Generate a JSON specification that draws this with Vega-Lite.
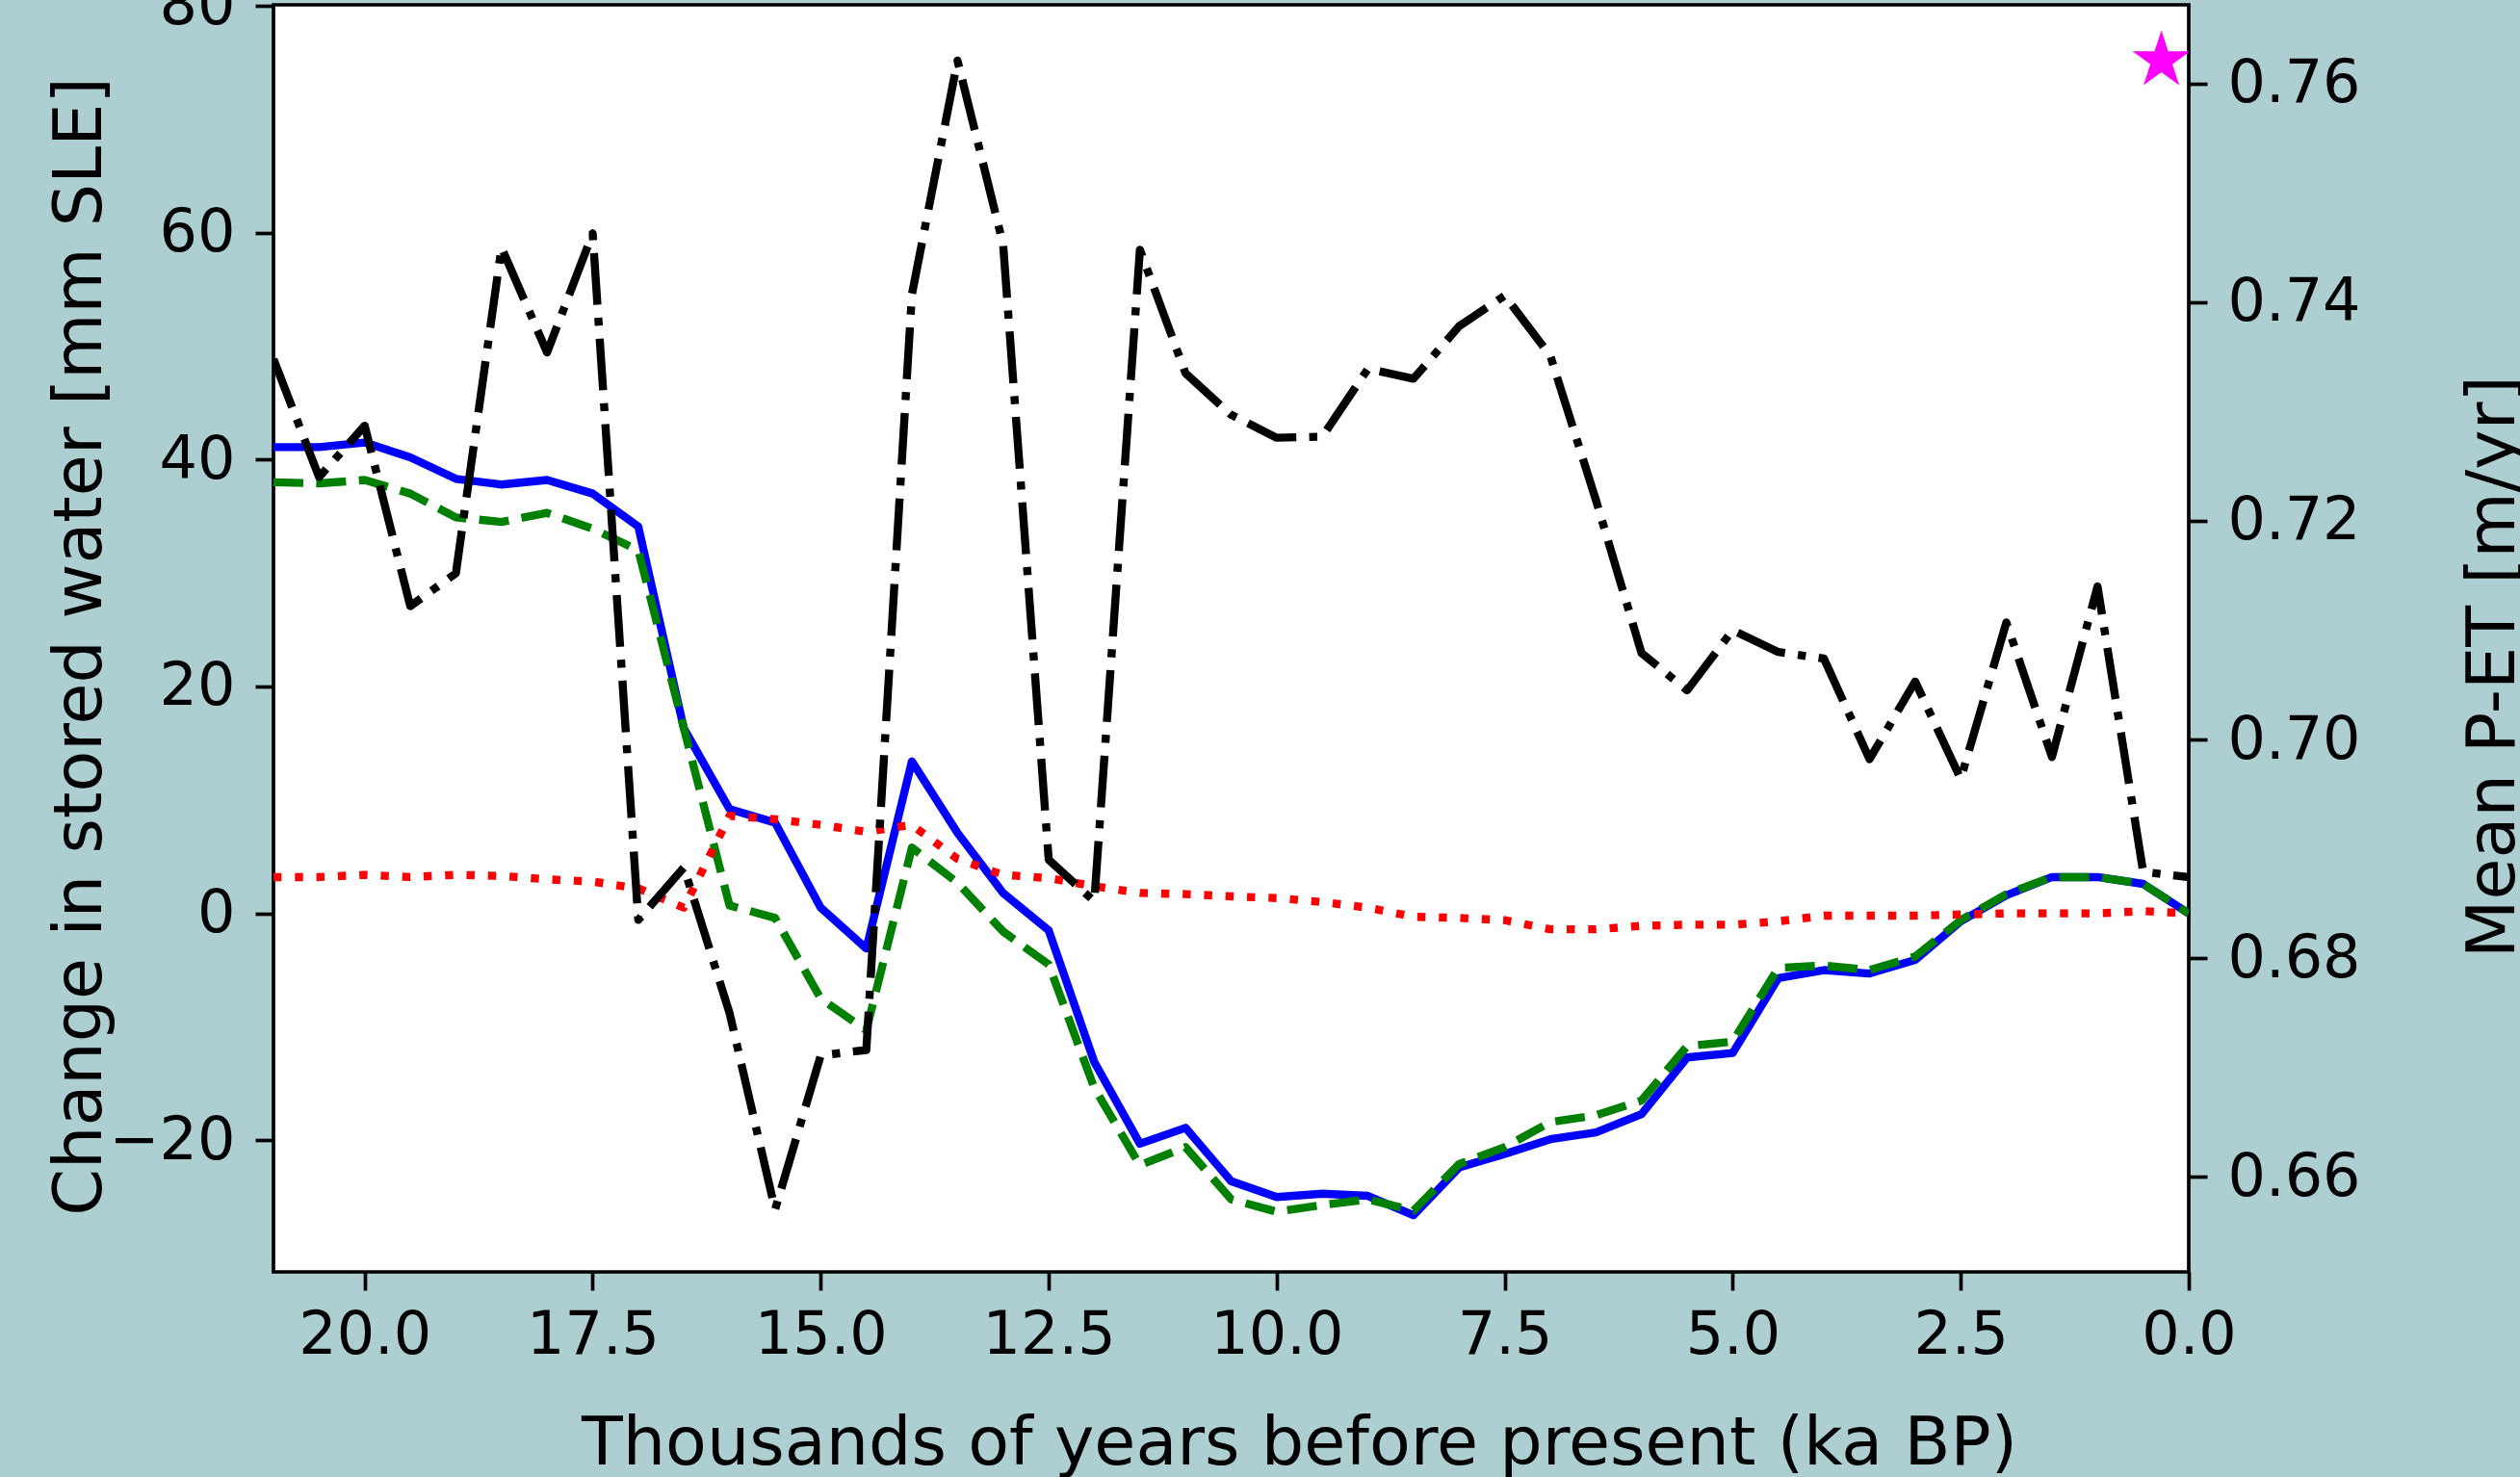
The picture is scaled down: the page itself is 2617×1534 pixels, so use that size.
{
  "$schema": "https://vega.github.io/schema/vega-lite/v6.json",
  "width": 1989,
  "height": 1316,
  "autosize": {"type": "none"},
  "padding": {"left": 284, "top": 5, "right": 344, "bottom": 213},
  "background": "#aecfd2",
  "config": {
    "view": {"fill": "white", "stroke": "black", "strokeWidth": 3.7},
    "axis": {
      "domain": false, "grid": false,
      "labelFont": "DejaVu Sans", "labelFontSize": 62, "labelColor": "black",
      "tickColor": "black", "tickWidth": 3.7, "tickSize": 19,
      "titleFont": "DejaVu Sans", "titleFontSize": 70, "titleFontWeight": "normal", "titleColor": "black",
      "labelFlush": false, "labelOverlap": false
    },
    "line": {"strokeWidth": 8.4, "strokeJoin": "round", "strokeCap": "butt"}
  },
  "datasets": {
    "series": [
      {"t": 21, "blue": 41.1, "green": 38.0, "red": 3.2, "pet": 0.7348},
      {"t": 20.5, "blue": 41.1, "green": 37.9, "red": 3.2, "pet": 0.7240},
      {"t": 20, "blue": 41.5, "green": 38.2, "red": 3.4, "pet": 0.7287},
      {"t": 19.5, "blue": 40.2, "green": 37.0, "red": 3.2, "pet": 0.7122},
      {"t": 19, "blue": 38.3, "green": 34.9, "red": 3.4, "pet": 0.7152},
      {"t": 18.5, "blue": 37.8, "green": 34.5, "red": 3.3, "pet": 0.7450},
      {"t": 18, "blue": 38.2, "green": 35.3, "red": 3.0, "pet": 0.7354},
      {"t": 17.5, "blue": 37.0, "green": 33.9, "red": 2.8, "pet": 0.7463},
      {"t": 17, "blue": 34.1, "green": 32.0, "red": 2.2, "pet": 0.6835},
      {"t": 16.5, "blue": 16.3, "green": 16.3, "red": 0.5, "pet": 0.6883},
      {"t": 16, "blue": 9.2, "green": 0.7, "red": 8.6, "pet": 0.6750},
      {"t": 15.5, "blue": 8.0, "green": -0.4, "red": 8.3, "pet": 0.6570},
      {"t": 15, "blue": 0.5, "green": -7.5, "red": 7.8, "pet": 0.6711},
      {"t": 14.5, "blue": -3.1, "green": -10.3, "red": 7.2, "pet": 0.6716},
      {"t": 14, "blue": 13.4, "green": 5.8, "red": 7.8, "pet": 0.7407},
      {"t": 13.5, "blue": 7.1, "green": 2.7, "red": 4.8, "pet": 0.7621},
      {"t": 13, "blue": 1.8, "green": -1.6, "red": 3.4, "pet": 0.7453},
      {"t": 12.5, "blue": -1.5, "green": -4.5, "red": 3.1, "pet": 0.6890},
      {"t": 12, "blue": -13.1, "green": -15.4, "red": 2.4, "pet": 0.6852},
      {"t": 11.5, "blue": -20.3, "green": -22.2, "red": 1.8, "pet": 0.7448},
      {"t": 11, "blue": -18.9, "green": -20.6, "red": 1.7, "pet": 0.7335},
      {"t": 10.5, "blue": -23.6, "green": -25.2, "red": 1.5, "pet": 0.7297},
      {"t": 10, "blue": -25.0, "green": -26.3, "red": 1.35, "pet": 0.7276},
      {"t": 9.5, "blue": -24.7, "green": -25.7, "red": 1.0, "pet": 0.7277},
      {"t": 9, "blue": -24.9, "green": -25.2, "red": 0.5, "pet": 0.7339},
      {"t": 8.5, "blue": -26.6, "green": -26.2, "red": -0.3, "pet": 0.7330},
      {"t": 8, "blue": -22.4, "green": -22.1, "red": -0.4, "pet": 0.7378},
      {"t": 7.5, "blue": -21.2, "green": -20.6, "red": -0.6, "pet": 0.7406},
      {"t": 7, "blue": -19.9, "green": -18.4, "red": -1.4, "pet": 0.7351},
      {"t": 6.5, "blue": -19.3, "green": -17.8, "red": -1.4, "pet": 0.7219},
      {"t": 6, "blue": -17.7, "green": -16.5, "red": -1.1, "pet": 0.7079},
      {"t": 5.5, "blue": -12.7, "green": -11.7, "red": -1.0, "pet": 0.7045},
      {"t": 5, "blue": -12.3, "green": -11.3, "red": -1.0, "pet": 0.7100},
      {"t": 4.5, "blue": -5.7, "green": -4.8, "red": -0.7, "pet": 0.7080},
      {"t": 4, "blue": -5.0, "green": -4.6, "red": -0.2, "pet": 0.7074},
      {"t": 3.5, "blue": -5.3, "green": -5.0, "red": -0.2, "pet": 0.6982},
      {"t": 3, "blue": -4.1, "green": -3.8, "red": -0.2, "pet": 0.7053},
      {"t": 2.5, "blue": -0.7, "green": -0.6, "red": -0.1, "pet": 0.6964},
      {"t": 2, "blue": 1.6, "green": 1.7, "red": 0.0, "pet": 0.7107},
      {"t": 1.5, "blue": 3.2, "green": 3.2, "red": 0.0, "pet": 0.6984},
      {"t": 1, "blue": 3.2, "green": 3.2, "red": 0.0, "pet": 0.7140},
      {"t": 0.5, "blue": 2.6, "green": 2.6, "red": 0.2, "pet": 0.6879},
      {"t": 0, "blue": 0.0, "green": 0.0, "red": 0.0, "pet": 0.6874}
    ],
    "star": [{"t": 0.3, "pet": 0.7621}]
  },
  "data": {"name": "series"},
  "encoding": {
    "x": {
      "field": "t", "type": "quantitative",
      "scale": {"domain": [21, 0], "nice": false, "zero": false},
      "axis": {
        "values": [20, 17.5, 15, 12.5, 10, 7.5, 5, 2.5, 0], "format": ".1f",
        "labelPadding": 16,
        "title": "Thousands of years before present (ka BP)",
        "titleX": 1065, "titleY": 199, "titleAngle": 0, "titleAlign": "center", "titleBaseline": "alphabetic"
      }
    }
  },
  "layer": [
    {
      "mark": {"type": "line", "color": "#0000ff", "clip": true},
      "encoding": {
        "y": {
          "field": "blue", "type": "quantitative",
          "scale": {"domain": [-31.6, 80.08], "nice": false, "zero": false},
          "axis": {
            "orient": "left", "values": [-20, 0, 20, 40, 60, 80], "format": "d", "labelPadding": 21,
            "title": "Change in stored water [mm SLE]",
            "titleAngle": 270, "titleX": -180, "titleY": 666, "titleAlign": "center", "titleBaseline": "alphabetic"
          }
        }
      }
    },
    {
      "mark": {"type": "line", "color": "#008000", "strokeDash": [31, 13.4], "clip": true},
      "encoding": {
        "y": {"field": "green", "type": "quantitative", "scale": {"domain": [-31.6, 80.08], "nice": false, "zero": false}, "axis": null}
      }
    },
    {
      "mark": {"type": "line", "color": "#ff0000", "strokeDash": [8.4, 13.9], "clip": true},
      "encoding": {
        "y": {"field": "red", "type": "quantitative", "scale": {"domain": [-31.6, 80.08], "nice": false, "zero": false}, "axis": null}
      }
    },
    {
      "mark": {"type": "line", "color": "#000000", "strokeDash": [53.8, 13.4, 8.4, 13.4], "clip": true},
      "encoding": {
        "y": {
          "field": "pet", "type": "quantitative",
          "scale": {"domain": [0.6513, 0.7672], "nice": false, "zero": false},
          "axis": {
            "orient": "right", "values": [0.66, 0.68, 0.70, 0.72, 0.74, 0.76], "format": ".2f", "labelPadding": 21,
            "title": "Mean P-ET [m/yr]",
            "titleAngle": 270, "titleX": 337, "titleY": 687, "titleAlign": "center", "titleBaseline": "alphabetic"
          }
        }
      }
    },
    {
      "data": {"name": "star"},
      "mark": {
        "type": "point", "filled": true, "color": "#ff00ff", "opacity": 1, "size": 3970, "clip": true,
        "shape": "M0,-1L0.2245,-0.309L0.951,-0.309L0.363,0.118L0.588,0.809L0,0.382L-0.588,0.809L-0.363,0.118L-0.951,-0.309L-0.2245,-0.309Z"
      },
      "encoding": {
        "y": {"field": "pet", "type": "quantitative", "scale": {"domain": [0.6513, 0.7672], "nice": false, "zero": false}, "axis": null}
      }
    }
  ],
  "resolve": {"scale": {"y": "independent"}}
}
